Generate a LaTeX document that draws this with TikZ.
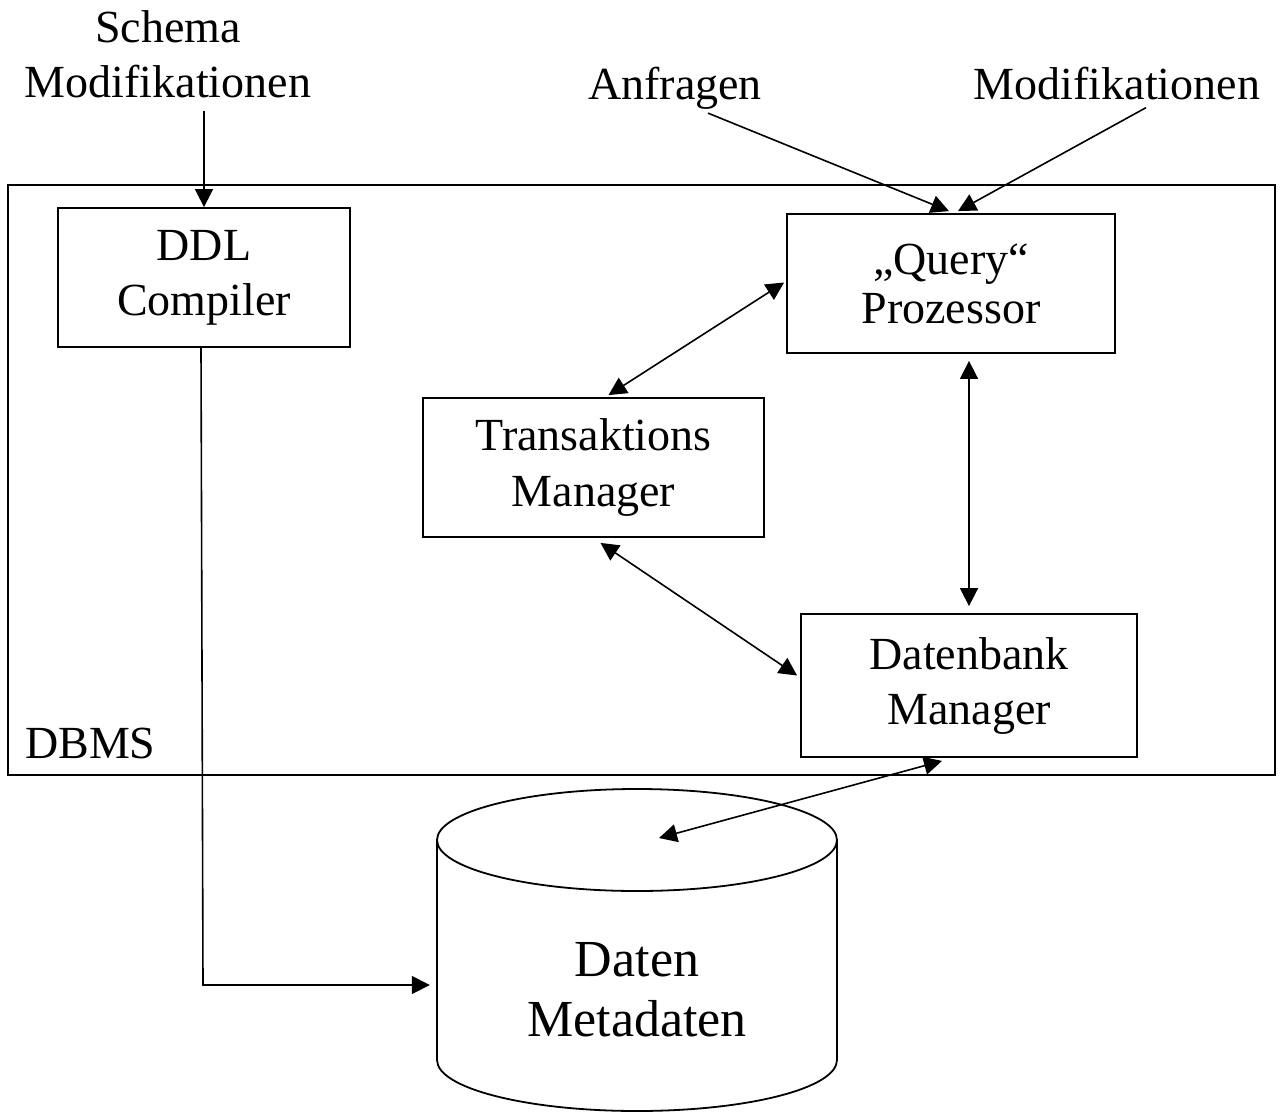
\documentclass[tikz,border=0pt]{standalone}
\usepackage{fontspec}
\setmainfont{Liberation Serif}
\usetikzlibrary{arrows.meta,calc}
\begin{document}
\begin{tikzpicture}[x=1pt,y=-1pt,
  line/.style={line width=1.8pt},
  box/.style={draw, line width=1.8pt, rectangle, inner sep=0pt, align=center,
    font=\fontsize{46}{55}\selectfont},
  lbl/.style={inner sep=3pt, align=center, font=\fontsize{46}{55}\selectfont},
  tip/.tip={Triangle[length=18pt,width=18pt]},
  arr/.style={line width=1.6pt, -tip},
  arrs/.style={line width=1.6pt, tip-tip},
]
\useasboundingbox (0,0) rectangle (1279,1113);

% system boundary
\node[box, minimum width=1267pt, minimum height=590pt] (dbms) at (641.5,480) {};
\node[anchor=base west, inner sep=0pt, font=\fontsize{46}{55}\selectfont] (dbmslbl) at (25,758) {DBMS};

% components
\node[box, minimum width=292pt, minimum height=139pt] (ddl) at (204,277.5) {DDL\\Compiler};
\node[box, minimum width=328pt, minimum height=139pt, font=\fontsize{46}{49}\selectfont] (qp) at (951,283.5) {„Query“\\Prozessor};
\node[box, minimum width=341pt, minimum height=139pt] (tm) at (593.5,467.5) {Transaktions\\Manager};
\node[box, minimum width=336pt, minimum height=143pt] (dbm) at (969,685.5) {Datenbank\\Manager};

% storage cylinder
\draw[line] (637,840) ellipse [x radius=200, y radius=51];
\draw[line] (437,840) -- (437,1060)
  .. controls (437,1088.2) and (526.5,1111) .. (637,1111)
  .. controls (747.5,1111) and (837,1088.2) .. (837,1060) -- (837,840);
\node[minimum width=400pt, inner sep=0pt, align=center,
  font=\fontsize{52}{60}\selectfont] (cyl) at (637,990) {Daten\\Metadaten};

% external inputs
\node[lbl] (schema) at (168,54) {Schema\\Modifikationen};
\node[lbl, anchor=base] (anfr) at (675,100) {Anfragen};
\node[lbl, anchor=base] (modif) at (1117,100) {Modifikationen};

% connectors
\draw[arr] ($(schema.south -| ddl.north)+(0,10)$) -- (ddl.north);
\draw[arr] ($(anfr.south)+(33,0)$) -- ($(qp.north)+(-2,-2)$);
\draw[arr] ($(modif.south)+(29,4)$) -- ($(qp.north)+(7,-2)$);
\draw[arrs] ($(qp.west)+(-2,-1)$) -- ($(tm.north)+(15,-2)$);
\draw[arrs] ($(qp.south -| dbm.north)+(0,7)$) -- ($(dbm.north)+(0,-7)$);
\draw[arrs] ($(tm.south)+(7,5)$) -- ($(dbm.west)+(-3,-10)$);
\coordinate (cyltop) at (659,838);
\draw[arrs] ($(dbm.south)+(-27,3)$) -- (cyltop);
\coordinate (ddlbend) at (203,985);
\draw[arr] ($(ddl.south)+(-3,0)$) -- (ddlbend) -- ($(ddlbend -| cyl.west)+(-7,0)$);
\end{tikzpicture}
\end{document}
